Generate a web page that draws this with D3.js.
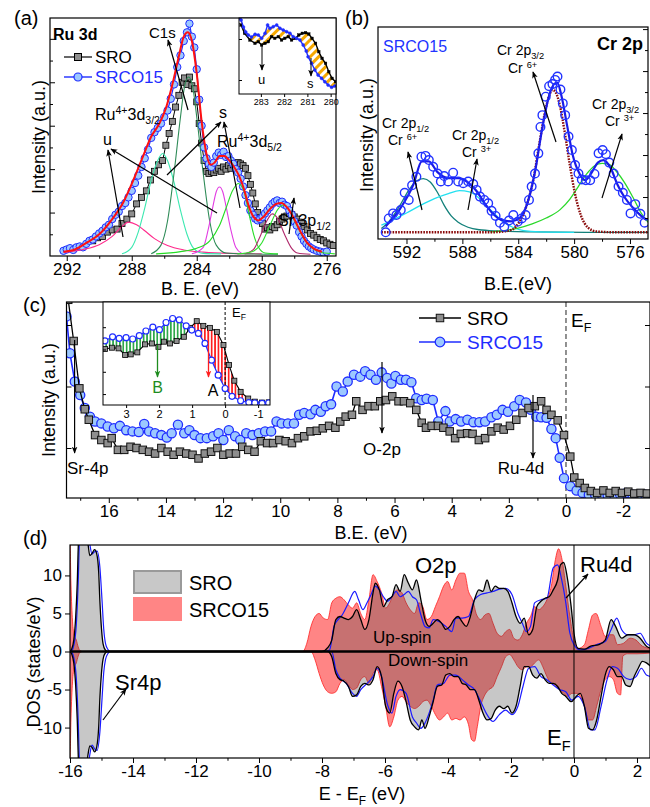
<!DOCTYPE html>
<html><head><meta charset="utf-8">
<script src="https://cdn.jsdelivr.net/npm/d3@7"></script>
<style>body{margin:0;background:#fff}svg text{font-family:"Liberation Sans",Arial,Helvetica,sans-serif}</style>
</head><body>
<svg id="chart" width="650" height="807"></svg>
<script>
// ================= DATA =================
// (a) Ru 3d XPS  [B.E. (eV), intensity]
const a_SRO = [[290.4,0.35],[290.1,0.42],[289.8,0.45],[289.5,0.55],[289.2,0.6],[288.9,0.62],[288.6,0.75],[288.3,0.85],[288.0,0.97],[287.7,1.2],[287.4,1.35],[287.1,1.5],[286.85,1.75],[286.6,1.95],[286.35,2.1],[286.1,2.2],[285.9,2.55],[285.7,2.82],[285.5,3.1],[285.3,3.43],[285.1,3.7],[284.9,4.0],[284.75,4.1],[284.6,3.95],[284.45,4.12],[284.3,3.92],[284.15,3.85],[284.0,3.55],[283.85,3.05],[283.7,2.6],[283.55,2.2],[283.4,1.95],[283.25,1.9],[283.1,1.95],[282.95,1.92],[282.8,1.98],[282.65,2.02],[282.5,1.95],[282.35,2.05],[282.2,2.0],[282.05,2.08],[281.9,2.02],[281.75,2.1],[281.6,2.05],[281.45,2.15],[281.3,2.12],[281.15,2.08],[281.0,2.02],[280.85,1.85],[280.7,1.65],[280.55,1.45],[280.4,1.2],[280.25,1.0],[280.1,0.88],[279.95,0.75],[279.8,0.62],[279.65,0.65],[279.5,0.6],[279.35,0.68],[279.2,0.65],[279.05,0.72],[278.9,0.8],[278.75,0.85],[278.6,0.9],[278.45,0.92],[278.3,0.98],[278.15,0.95],[278.0,0.9],[277.85,0.85],[277.7,0.78],[277.55,0.75],[277.4,0.68],[277.2,0.6],[277.0,0.52],[276.8,0.48],[276.6,0.42],[276.4,0.38],[276.2,0.35],[276.0,0.3],[275.8,0.27],[275.6,0.24]];
const a_SRCO15 = [[292.2,0.12],[292.0,0.15],[291.8,0.18],[291.6,0.14],[291.4,0.2],[291.2,0.22],[291.0,0.2],[290.8,0.28],[290.6,0.35],[290.4,0.38],[290.2,0.45],[290.0,0.52],[289.8,0.58],[289.6,0.66],[289.4,0.72],[289.2,0.85],[289.0,0.95],[288.8,1.02],[288.6,1.15],[288.4,1.22],[288.2,1.35],[288.0,1.5],[287.8,1.68],[287.6,1.85],[287.4,2.05],[287.2,2.25],[287.0,2.45],[286.8,2.72],[286.6,2.85],[286.4,2.95],[286.2,3.05],[286.0,3.2],[285.8,3.35],[285.6,3.62],[285.4,3.95],[285.2,4.35],[285.0,4.62],[284.8,4.95],[284.6,5.15],[284.45,5.35],[284.3,5.05],[284.15,4.8],[284.0,4.3],[283.85,3.6],[283.7,3.0],[283.55,2.5],[283.4,2.25],[283.25,2.12],[283.1,2.05],[282.95,2.15],[282.8,2.3],[282.65,2.38],[282.5,2.33],[282.35,2.4],[282.2,2.28],[282.05,2.3],[281.9,2.2],[281.75,2.12],[281.6,2.0],[281.45,1.92],[281.3,1.78],[281.15,1.6],[281.0,1.4],[280.85,1.22],[280.7,1.05],[280.55,0.95],[280.4,0.86],[280.25,0.82],[280.1,0.85],[279.95,0.9],[279.8,0.98],[279.65,1.05],[279.5,1.12],[279.35,1.2],[279.2,1.25],[279.05,1.28],[278.9,1.22],[278.75,1.25],[278.6,1.18],[278.45,1.15],[278.3,1.05],[278.15,0.95],[278.0,0.8],[277.85,0.7],[277.7,0.55],[277.55,0.45],[277.4,0.35],[277.25,0.28],[277.1,0.22],[276.95,0.18],[276.8,0.15],[276.6,0.12],[276.4,0.1],[276.2,0.08],[276.0,0.1]];
const a_fit = [[292.2,0.1],[291.5,0.15],[290.8,0.3],[290.0,0.5],[289.2,0.85],[288.5,1.25],[287.9,1.75],[287.3,2.3],[286.8,2.75],[286.3,3.05],[285.9,3.4],[285.5,3.95],[285.1,4.6],[284.8,5.05],[284.55,5.15],[284.3,4.95],[284.0,4.2],[283.7,3.1],[283.4,2.35],[283.15,2.1],[282.9,2.15],[282.6,2.3],[282.3,2.3],[282.0,2.2],[281.7,2.05],[281.4,1.85],[281.1,1.55],[280.8,1.15],[280.5,0.9],[280.2,0.82],[279.9,0.9],[279.5,1.08],[279.1,1.2],[278.8,1.22],[278.4,1.1],[278.0,0.85],[277.6,0.55],[277.2,0.3],[276.8,0.17],[276.3,0.1]];
const a_peak_u = [[292.2,0.08],[291.0,0.15],[290.0,0.26],[289.2,0.45],[288.6,0.68],[288.2,0.78],[287.7,0.72],[287.2,0.58],[286.6,0.4],[285.8,0.24],[284.8,0.14],[283.6,0.09],[282.0,0.06],[280.0,0.05]];
const a_peak_d32 = [[288.6,0.05],[288.0,0.2],[287.6,0.55],[287.2,1.1],[286.8,1.75],[286.4,2.2],[286.1,2.36],[285.8,2.2],[285.4,1.7],[285.0,1.05],[284.6,0.5],[284.2,0.18],[283.6,0.06],[282.5,0.05]];
const a_peak_C1s = [[286.8,0.05],[286.2,0.25],[285.8,0.8],[285.4,1.9],[285.0,3.2],[284.75,3.9],[284.5,4.12],[284.25,3.9],[284.0,3.2],[283.6,1.9],[283.2,0.8],[282.8,0.25],[282.2,0.07],[281.0,0.05],[279.0,0.04]];
const a_peak_s = [[284.3,0.05],[283.6,0.2],[283.3,0.6],[283.0,1.15],[282.8,1.48],[282.6,1.59],[282.4,1.48],[282.2,1.15],[281.9,0.6],[281.6,0.2],[281.2,0.05]];
const a_peak_d52 = [[286.5,0.05],[285.0,0.1],[284.0,0.18],[283.2,0.35],[282.6,0.7],[282.2,1.1],[281.8,1.5],[281.45,1.67],[281.1,1.5],[280.8,1.0],[280.5,0.5],[280.2,0.2],[279.8,0.07],[279.0,0.05]];
const a_peak_m = [[281.0,0.05],[280.5,0.15],[280.1,0.45],[279.7,0.8],[279.35,0.97],[279.0,0.85],[278.6,0.5],[278.2,0.2],[277.8,0.07],[277.0,0.04]];
const a_peak_Sr = [[281.5,0.05],[280.6,0.1],[280.0,0.3],[279.5,0.7],[279.0,1.08],[278.7,1.17],[278.3,1.05],[277.9,0.75],[277.4,0.4],[276.9,0.18],[276.3,0.08],[275.5,0.05]];
const a_xTicks = [292,288,284,280,276];
const a_xMinor = [290,286,282,278];
const a_yTicks = [1,2,3,4,5];
// (a) inset
const ai_SRO = [[283.85,6.9],[283.7,6.07],[283.47,5.4],[283.25,5.07],[283.11,5.23],[282.97,4.9],[282.82,5.07],[282.68,5.23],[282.54,5.73],[282.4,5.57],[282.25,5.73],[282.11,5.4],[281.97,5.57],[281.82,5.73],[281.68,5.4],[281.51,5.57],[281.37,5.9],[281.22,6.07],[281.08,6.13],[280.94,6.0],[280.8,5.57],[280.65,5.07],[280.51,4.23],[280.37,3.57],[280.22,3.07],[280.08,2.23],[279.94,1.57],[279.79,1.23]];
const ai_SRCO15 = [[283.9,7.6],[283.85,7.4],[283.75,6.7],[283.65,6.2],[283.54,5.9],[283.4,5.7],[283.25,5.97],[283.11,5.9],[282.97,5.57],[282.82,6.07],[282.71,6.9],[282.61,6.57],[282.47,6.73],[282.32,6.9],[282.18,6.57],[282.04,6.4],[281.89,6.23],[281.75,6.07],[281.61,5.73],[281.46,5.57],[281.32,5.4],[281.18,4.9],[281.05,4.3],[280.97,3.73],[280.82,3.07],[280.68,2.4],[280.54,1.9],[280.39,1.57],[280.25,1.23],[280.11,0.9],[279.96,0.67],[279.82,0.8]];
const ai_xTicks = [283,282,281,280];

// (b) Cr 2p XPS
const b_SRCO15 = [[593.49,0.16],[593.27,0.49],[592.96,0.61],[592.72,0.57],[592.41,0.69],[592.13,1.10],[591.84,0.93],[591.60,1.28],[591.29,1.48],[590.93,1.96],[590.64,1.98],[590.40,1.88],[590.09,1.72],[589.78,1.56],[589.54,1.37],[589.30,1.50],[589.02,1.37],[588.66,1.58],[588.30,1.37],[587.94,1.33],[587.58,1.37],[587.22,1.31],[586.98,1.17],[586.74,1.01],[586.43,0.93],[586.15,0.85],[585.91,0.67],[585.62,0.55],[585.31,0.39],[585.00,0.29],[584.66,0.44],[584.35,0.57],[584.04,0.41],[583.75,0.49],[583.47,0.57],[583.23,0.93],[583.04,1.25],[582.80,1.56],[582.56,2.04],[582.41,2.67],[582.27,2.95],[582.03,3.39],[581.79,3.64],[581.55,3.69],[581.36,3.79],[581.19,3.87],[580.98,3.56],[580.81,3.23],[580.64,2.95],[580.40,2.44],[580.16,2.12],[579.93,1.76],[579.69,1.56],[579.45,1.42],[579.16,1.40],[578.85,1.40],[578.54,1.55],[578.25,2.04],[577.96,2.12],[577.72,2.02],[577.48,1.82],[577.17,1.56],[576.82,1.25],[576.51,1.10],[576.22,0.93],[575.96,0.61],[575.62,0.83],[575.26,0.60],[574.95,0.39]];
const b_fit = [[593.5,0.3],[592.5,0.7],[591.5,1.3],[590.9,1.85],[590.4,1.85],[589.8,1.6],[589.0,1.45],[588.3,1.45],[587.6,1.35],[587.0,1.15],[586.4,0.85],[585.8,0.6],[585.2,0.45],[584.5,0.42],[583.9,0.5],[583.4,0.8],[582.8,1.6],[582.3,2.6],[581.8,3.4],[581.4,3.7],[581.2,3.72],[580.9,3.4],[580.5,2.7],[580.1,2.0],[579.6,1.55],[579.2,1.4],[578.8,1.55],[578.3,1.82],[577.9,1.88],[577.4,1.7],[576.9,1.3],[576.4,1.0],[575.8,0.75],[575.2,0.55],[574.8,0.45]];
const b_peak_Cr6_12 = [[593.8,0.25],[593.3,0.4],[592.8,0.62],[592.3,0.9],[591.8,1.18],[591.3,1.38],[590.8,1.44],[590.3,1.36],[589.8,1.12],[589.3,0.8],[588.8,0.55],[588.3,0.4],[587.6,0.28],[586.8,0.22],[585.5,0.19],[583.0,0.17],[579.0,0.16],[574.7,0.16]];
const b_peak_Cr3_12 = [[593.8,0.33],[593.0,0.45],[592.0,0.62],[591.0,0.8],[590.0,0.96],[589.0,1.08],[588.2,1.15],[587.5,1.12],[586.9,1.0],[586.3,0.8],[585.7,0.6],[585.1,0.42],[584.4,0.28],[583.6,0.2],[582.5,0.17],[580.0,0.16]];
const b_peak_Cr6_32 = [[593.8,0.16],[586.0,0.16],[585.0,0.18],[584.4,0.23],[583.9,0.42],[583.4,0.8],[582.9,1.45],[582.5,2.25],[582.1,3.0],[581.8,3.4],[581.55,3.55],[581.3,3.48],[581.0,3.15],[580.65,2.5],[580.3,1.75],[579.95,1.1],[579.5,0.55],[579.0,0.27],[578.4,0.18],[577.0,0.16],[574.7,0.16]];
const b_peak_Cr3_32 = [[586.0,0.17],[585.0,0.2],[584.0,0.26],[583.0,0.36],[582.0,0.5],[581.0,0.7],[580.3,0.95],[579.7,1.25],[579.1,1.55],[578.5,1.75],[578.0,1.8],[577.5,1.78],[577.0,1.62],[576.4,1.35],[575.8,1.0],[575.2,0.62],[574.7,0.4]];
const b_xTicks = [592,588,584,580,576];
const b_xMinor = [590,586,582,578];
const b_yTicks = [1,2,3,4,5];

// (c) valence band
const c_SRO = [[17.5,3.6],[17.42,3.41],[17.23,2.74],[17.03,1.97],[16.84,1.63],[16.70,1.46],[16.48,1.21],[16.26,1.13],[16.04,1.08],[15.90,1.16],[15.68,0.97],[15.46,0.97],[15.24,1.02],[15.03,1.0],[14.81,0.97],[14.59,0.94],[14.38,0.91],[14.16,1.0],[13.94,0.94],[13.73,0.89],[13.51,0.94],[13.29,0.91],[13.07,0.89],[12.86,0.83],[12.64,0.91],[12.42,0.94],[12.20,1.0],[11.99,0.89],[11.77,0.91],[11.55,0.91],[11.33,1.02],[11.12,0.97],[10.90,0.94],[10.68,1.11],[10.46,1.08],[10.25,1.08],[10.03,1.13],[9.81,1.11],[9.59,1.08],[9.38,1.16],[9.16,1.19],[8.94,1.27],[8.72,1.28],[8.51,1.32],[8.29,1.36],[8.07,1.33],[7.90,1.43],[7.71,1.51],[7.49,1.54],[7.34,1.76],[7.12,1.62],[6.91,1.68],[6.69,1.68],[6.50,1.76],[6.30,1.78],[6.08,1.84],[5.86,1.76],[5.67,1.76],[5.45,1.73],[5.24,1.62],[5.05,1.41],[4.90,1.33],[4.70,1.36],[4.48,1.36],[4.29,1.33],[4.07,1.27],[3.88,1.16],[3.68,1.23],[3.46,1.24],[3.27,1.23],[3.05,1.13],[2.83,1.16],[2.61,1.27],[2.39,1.33],[2.18,1.30],[1.96,1.36],[1.74,1.46],[1.52,1.57],[1.31,1.65],[1.09,1.68],[0.87,1.76],[0.68,1.62],[0.51,1.54],[0.29,1.45],[0.07,1.21],[-0.15,0.86],[-0.29,0.52],[-0.48,0.43],[-0.66,0.35],[-0.87,0.30],[-1.09,0.27],[-1.31,0.31],[-1.53,0.27],[-1.74,0.30],[-1.96,0.27],[-2.18,0.29],[-2.39,0.26],[-2.61,0.27],[-2.83,0.26]];
const c_SRCO15 = [[17.55,3.5],[17.48,3.14],[17.36,2.54],[17.19,2.08],[17.00,1.86],[16.84,1.65],[16.66,1.51],[16.48,1.43],[16.26,1.40],[16.04,1.35],[15.82,1.32],[15.61,1.36],[15.39,1.29],[15.17,1.27],[14.95,1.26],[14.76,1.39],[14.59,1.27],[14.38,1.24],[14.16,1.21],[13.97,1.17],[13.80,1.24],[13.58,1.38],[13.36,1.24],[13.18,1.29],[13.00,1.21],[12.79,1.16],[12.57,1.16],[12.35,1.19],[12.16,1.24],[11.99,1.13],[11.80,1.29],[11.58,1.19],[11.40,1.13],[11.19,1.24],[10.97,1.21],[10.75,1.24],[10.53,1.27],[10.32,1.27],[10.13,1.43],[9.95,1.40],[9.73,1.40],[9.52,1.40],[9.34,1.54],[9.16,1.57],[8.94,1.55],[8.77,1.62],[8.58,1.59],[8.41,1.68],[8.22,1.71],[8.03,2.0],[7.81,1.92],[7.64,2.08],[7.42,2.19],[7.20,2.16],[7.03,2.25],[6.84,2.19],[6.65,2.11],[6.45,2.23],[6.26,2.14],[6.11,2.05],[5.97,2.17],[5.78,2.11],[5.60,2.11],[5.41,2.07],[5.24,1.81],[5.05,1.78],[4.88,1.80],[4.66,1.78],[4.47,1.43],[4.22,1.60],[4.07,1.43],[3.86,1.47],[3.67,1.43],[3.45,1.46],[3.24,1.42],[3.03,1.42],[2.83,1.43],[2.61,1.50],[2.42,1.54],[2.22,1.62],[2.03,1.59],[1.81,1.68],[1.62,1.78],[1.40,1.74],[1.23,1.62],[1.04,1.51],[0.87,1.50],[0.68,1.49],[0.51,1.31],[0.36,1.16],[0.22,0.84],[0.07,0.51],[-0.15,0.38],[-0.37,0.31],[-0.58,0.27],[-0.80,0.24],[-1.02,0.24],[-1.24,0.25],[-1.46,0.23],[-1.68,0.24],[-1.89,0.25],[-2.11,0.27],[-2.33,0.24],[-2.55,0.25],[-2.77,0.24]];
const c_xTicks = [16,14,12,10,8,6,4,2,0,-2];
const c_xMinor = [17,15,13,11,9,7,5,3,1,-1];
const c_yTicks = [1,2,3];
// (c) inset near E_F
const ci_SRO = [[3.64,2.02],[3.43,2.08],[3.23,2.05],[3.03,1.75],[2.86,1.78],[2.66,1.87],[2.43,2.23],[2.22,2.27],[2.02,2.12],[1.85,2.35],[1.67,2.27],[1.47,2.38],[1.25,2.57],[1.06,2.97],[0.86,3.27],[0.66,3.06],[0.46,2.97],[0.25,2.79],[0.05,2.20],[-0.12,1.3],[-0.28,0.6],[-0.47,0.1],[-0.7,-0.2],[-0.9,-0.34],[-1.12,-0.38],[-1.32,-0.37]];
const ci_SRCO15 = [[3.64,2.39],[3.41,2.57],[3.21,2.50],[3.0,2.53],[2.80,2.47],[2.60,2.62],[2.40,2.83],[2.19,3.0],[1.99,2.89],[1.79,3.21],[1.59,3.39],[1.39,3.33],[1.18,3.06],[1.01,2.87],[0.81,2.72],[0.61,2.27],[0.41,1.52],[0.21,0.85],[0.0,0.25],[-0.21,-0.1],[-0.47,-0.3],[-0.72,-0.38],[-0.9,-0.4],[-1.12,-0.42],[-1.32,-0.4]];
const ci_xTicks = [3,2,1,0,-1];
const ci_yTicks = [0,1,2,3];

// (d) DOS  [E - EF (eV), states/eV]
const d_SRO_up = [[-16.0,0.0],[-15.95,0.3],[-15.88,1.5],[-15.82,4.5],[-15.77,9],[-15.73,14.5],[-15.65,17],[-15.5,16],[-15.43,14.2],[-15.37,12.6],[-15.3,12.9],[-15.22,13.4],[-15.15,12.8],[-15.09,10.5],[-15.05,6.5],[-15.0,3],[-14.95,1.0],[-14.88,0.2],[-14.8,0],[-8.0,0],[-7.82,0.5],[-7.69,1.5],[-7.56,4.2],[-7.43,4.6],[-7.3,4.4],[-7.16,4.2],[-7.03,4.6],[-6.9,5.5],[-6.77,4.2],[-6.64,2.9],[-6.51,4.2],[-6.38,7.7],[-6.31,9.0],[-6.18,8.1],[-6.05,5.9],[-5.92,6.8],[-5.78,7.2],[-5.65,8.8],[-5.52,7.9],[-5.39,10.1],[-5.26,9.0],[-5.13,8.1],[-5.0,9.4],[-4.86,6.8],[-4.73,4.2],[-4.6,3.3],[-4.47,3.7],[-4.34,4.2],[-4.2,3.7],[-4.07,2.9],[-3.94,3.3],[-3.81,4.2],[-3.68,4.6],[-3.55,3.9],[-3.42,3.3],[-3.29,4.6],[-3.16,6.8],[-3.02,8.1],[-2.89,7.9],[-2.76,9.4],[-2.63,7.9],[-2.5,8.6],[-2.37,8.3],[-2.23,8.3],[-2.1,7.9],[-1.97,6.4],[-1.84,4.6],[-1.71,3.7],[-1.58,4.4],[-1.44,2.2],[-1.31,2.9],[-1.18,5.9],[-1.05,6.6],[-0.92,7.0],[-0.79,7.2],[-0.66,8.1],[-0.52,9.4],[-0.43,11.4],[-0.33,11.7],[-0.2,9.4],[-0.09,5.9],[0,2.4],[0.13,0.4],[0.33,0.3],[0.53,0.7],[0.79,0.9],[0.99,1.5],[1.18,4.2],[1.32,3.3],[1.51,1.75],[1.71,2.2],[1.91,2.2],[2.1,1.75],[2.3,0.7],[2.45,0.4]];
const d_SRCO15_up = [[-16.05,16],[-16.0,14.5],[-15.97,9],[-15.92,4],[-15.87,2.2],[-15.8,1.5],[-15.74,0.6],[-15.68,0.1],[-15.6,0],[-8.7,0],[-8.61,0],[-8.48,1.1],[-8.35,3.3],[-8.22,4.6],[-8.09,5.0],[-7.96,4.4],[-7.82,4.2],[-7.69,6.4],[-7.56,7.0],[-7.43,7.2],[-7.3,6.8],[-7.16,6.1],[-7.03,5.7],[-6.9,6.4],[-6.77,5.0],[-6.64,4.2],[-6.51,6.8],[-6.38,10.1],[-6.25,9.2],[-6.11,7.7],[-5.98,5.7],[-5.85,6.4],[-5.72,7.7],[-5.59,8.1],[-5.46,7.7],[-5.33,6.4],[-5.2,5.5],[-5.06,5.0],[-4.93,6.4],[-4.8,5.9],[-4.67,4.2],[-4.53,4.6],[-4.4,5.9],[-4.27,7.2],[-4.14,8.6],[-4.01,9.2],[-3.88,8.1],[-3.75,9.4],[-3.62,10.3],[-3.48,10.3],[-3.35,7.9],[-3.22,6.8],[-3.09,4.8],[-2.96,4.2],[-2.83,4.8],[-2.7,5.0],[-2.57,3.7],[-2.44,2.4],[-2.3,2.0],[-2.17,2.6],[-2.04,2.9],[-1.91,1.75],[-1.78,1.5],[-1.64,2.2],[-1.51,3.7],[-1.38,4.6],[-1.25,5.9],[-1.12,5.5],[-0.99,5.9],[-0.86,6.8],[-0.72,8.6],[-0.59,12.1],[-0.49,13.5],[-0.38,12.1],[-0.26,8.6],[-0.13,4.6],[0,1.5],[0.13,0.4],[0.33,0.9],[0.46,2.9],[0.59,4.8],[0.7,5.0],[0.86,3.3],[0.99,2.0],[1.12,2.2],[1.25,2.2],[1.38,0.9],[1.58,1.1],[1.78,1.75],[1.97,1.5],[2.17,0.7],[2.45,0.4]];
const d_blue_up = [[-15.95,0],[-15.88,0.8],[-15.8,3.5],[-15.74,9],[-15.7,14.5],[-15.6,17],[-15.45,16],[-15.38,14.3],[-15.3,12.8],[-15.22,13.1],[-15.14,13.2],[-15.05,11],[-14.98,6.5],[-14.93,3],[-14.87,1.0],[-14.8,0.3],[-14.72,0],[-7.9,0],[-7.76,0.2],[-7.62,3.3],[-7.49,4.2],[-7.36,4.8],[-7.16,6.4],[-6.96,7.9],[-6.84,6.8],[-6.7,5.5],[-6.57,6.4],[-6.44,7.5],[-6.31,8.6],[-6.18,8.1],[-6.05,7.2],[-5.92,6.6],[-5.78,7.2],[-5.65,7.9],[-5.52,7.2],[-5.39,7.5],[-5.26,7.9],[-5.13,7.2],[-5.0,6.8],[-4.86,4.8],[-4.73,3.3],[-4.6,3.1],[-4.47,4.2],[-4.27,3.9],[-4.07,3.3],[-3.88,2.6],[-3.75,4.4],[-3.55,4.4],[-3.35,4.6],[-3.16,6.8],[-2.96,7.5],[-2.76,7.7],[-2.57,7.9],[-2.37,8.2],[-2.17,8.3],[-1.97,7.5],[-1.78,5.0],[-1.64,3.7],[-1.51,2.6],[-1.38,3.3],[-1.25,6.4],[-1.05,6.8],[-0.86,7.0],[-0.66,11.0],[-0.52,11.4],[-0.39,9.4],[-0.26,6.4],[-0.13,2.4],[0,0.9],[0.2,0.2],[0.46,0.4],[0.72,0.9],[0.99,1.3],[1.18,2.9],[1.36,4.4],[1.51,2.9],[1.71,2.2],[1.91,2.2],[2.1,2.4],[2.3,1.1],[2.45,0.7]];
const d_SRO_dn = [[-16.0,0],[-15.95,-0.3],[-15.88,-1.5],[-15.82,-4.5],[-15.77,-9],[-15.73,-14.5],[-15.65,-17],[-15.5,-16],[-15.43,-13.6],[-15.37,-12.4],[-15.3,-12.6],[-15.22,-13.2],[-15.15,-12.5],[-15.09,-10],[-15.05,-6],[-15.0,-2.8],[-14.95,-1.0],[-14.88,-0.2],[-14.8,0],[-8.0,0],[-7.82,0],[-7.69,-0.7],[-7.56,-2.9],[-7.43,-3.7],[-7.3,-3.9],[-7.16,-4.6],[-7.03,-5.9],[-6.9,-5.7],[-6.77,-4.6],[-6.64,-4.2],[-6.51,-4.4],[-6.38,-3.7],[-6.25,-2.0],[-6.11,-3.3],[-5.98,-7.2],[-5.85,-8.1],[-5.72,-5.5],[-5.59,-3.9],[-5.46,-4.6],[-5.33,-6.6],[-5.2,-9.0],[-5.06,-9.9],[-4.93,-10.3],[-4.83,-9.0],[-4.73,-10.1],[-4.6,-8.6],[-4.47,-6.6],[-4.34,-4.6],[-4.2,-4.4],[-4.07,-3.1],[-3.94,-2.9],[-3.81,-3.3],[-3.68,-3.3],[-3.55,-4.2],[-3.42,-4.4],[-3.29,-5.0],[-3.16,-5.0],[-3.02,-6.4],[-2.89,-8.1],[-2.76,-9.0],[-2.63,-8.8],[-2.5,-7.7],[-2.37,-7.2],[-2.23,-7.5],[-2.1,-7.2],[-1.97,-8.1],[-1.84,-7.2],[-1.71,-4.6],[-1.58,-2.0],[-1.44,-2.0],[-1.31,-3.1],[-1.18,-3.5],[-1.05,-2.9],[-0.92,-3.7],[-0.79,-4.2],[-0.66,-4.2],[-0.52,-4.6],[-0.39,-5.5],[-0.26,-5.9],[-0.09,-6.6],[0.07,-5.9],[0.2,-5.5],[0.33,-7.2],[0.46,-10.1],[0.59,-10.3],[0.72,-9.0],[0.86,-5.9],[0.99,-3.1],[1.12,-2.0],[1.25,-2.4],[1.38,-3.3],[1.51,-3.3],[1.64,-4.4],[1.78,-4.6],[1.91,-3.3],[2.04,-2.2],[2.17,-1.3],[2.3,-1.5],[2.45,-2.0]];
const d_SRCO15_dn = [[-16.05,-16],[-16.0,-14.5],[-15.97,-9],[-15.92,-4],[-15.87,-2.2],[-15.8,-1.5],[-15.74,-0.6],[-15.68,-0.1],[-15.6,0],[-8.45,0],[-8.35,0],[-8.22,-1.1],[-8.09,-2.9],[-7.96,-4.4],[-7.82,-5.3],[-7.69,-5.5],[-7.56,-5.3],[-7.43,-4.2],[-7.3,-3.7],[-7.16,-4.4],[-7.03,-5.0],[-6.9,-4.8],[-6.77,-3.7],[-6.64,-3.3],[-6.51,-4.2],[-6.38,-2.9],[-6.25,-2.4],[-6.11,-4.6],[-5.98,-7.2],[-5.85,-9.9],[-5.72,-8.6],[-5.59,-6.4],[-5.46,-5.9],[-5.33,-6.6],[-5.2,-7.2],[-5.06,-7.5],[-4.93,-7.2],[-4.8,-6.6],[-4.67,-6.4],[-4.53,-7.2],[-4.4,-8.3],[-4.27,-9.0],[-4.14,-8.6],[-4.01,-8.1],[-3.88,-9.0],[-3.75,-8.8],[-3.62,-9.0],[-3.48,-8.6],[-3.35,-9.6],[-3.25,-11.6],[-3.16,-11.8],[-3.07,-9.9],[-2.96,-7.2],[-2.83,-5.7],[-2.7,-5.0],[-2.57,-4.6],[-2.44,-3.3],[-2.3,-2.0],[-2.17,-0.7],[-2.04,-0.4],[-1.91,-1.1],[-1.78,-2.0],[-1.64,-2.4],[-1.51,-2.0],[-1.38,-2.0],[-1.25,-1.5],[-1.12,-1.1],[-0.99,-2.0],[-0.86,-3.3],[-0.72,-4.2],[-0.59,-4.4],[-0.46,-5.0],[-0.33,-5.5],[-0.2,-5.9],[-0.07,-5.5],[0.07,-5.5],[0.2,-5.9],[0.33,-7.2],[0.46,-9.0],[0.59,-9.0],[0.72,-7.2],[0.86,-5.0],[0.99,-3.7],[1.12,-3.3],[1.25,-3.7],[1.38,-5.5],[1.48,-5.7],[1.55,-0.6],[1.7,-0.3],[2.0,-0.3],[2.45,-0.2]];
const d_blue_dn = [[-15.95,0],[-15.88,-0.8],[-15.8,-3.5],[-15.74,-9],[-15.7,-14.5],[-15.6,-17],[-15.45,-16],[-15.38,-13.8],[-15.3,-12.3],[-15.22,-12.8],[-15.14,-13.0],[-15.05,-10.5],[-14.98,-6.0],[-14.93,-2.8],[-14.87,-1.0],[-14.8,-0.3],[-14.72,0],[-7.8,0],[-7.69,0],[-7.56,-2.4],[-7.43,-3.5],[-7.23,-4.2],[-7.03,-5.5],[-6.9,-5.9],[-6.77,-5.0],[-6.57,-4.2],[-6.38,-3.3],[-6.25,-2.2],[-6.11,-3.3],[-5.92,-7.0],[-5.78,-8.1],[-5.65,-5.9],[-5.52,-5.0],[-5.33,-5.5],[-5.13,-8.6],[-5.0,-9.4],[-4.86,-10.1],[-4.73,-9.4],[-4.6,-8.1],[-4.47,-6.4],[-4.34,-4.4],[-4.14,-4.2],[-3.94,-3.1],[-3.75,-3.1],[-3.55,-3.7],[-3.35,-4.4],[-3.16,-5.0],[-2.96,-6.6],[-2.76,-8.3],[-2.57,-9.2],[-2.37,-8.3],[-2.17,-7.7],[-1.97,-8.3],[-1.78,-7.2],[-1.62,-4.6],[-1.44,-2.2],[-1.25,-2.0],[-1.05,-3.3],[-0.86,-3.7],[-0.66,-4.4],[-0.46,-5.0],[-0.26,-5.3],[-0.07,-6.4],[0.13,-5.9],[0.33,-7.2],[0.53,-10.3],[0.66,-10.3],[0.86,-7.2],[1.05,-3.7],[1.22,-2.0],[1.38,-2.2],[1.58,-3.3],[1.78,-3.7],[1.97,-3.3],[2.14,-2.2],[2.3,-3.1],[2.45,-3.3]];
const d_xTicks = [-16,-14,-12,-10,-8,-6,-4,-2,0,2];
const d_xMinor = [-15,-13,-11,-9,-7,-5,-3,-1,1];
const d_yTicks = [-10,-5,0,5,10];

// ================= DRAWING =================
const svg = d3.select('#chart');
const defs = svg.append('defs');
const TF = 17, LF = 18;

[['k','#000'],['g','#1e8c1e'],['r','#ff1f1f']].forEach(([id,c])=>{
  defs.append('marker').attr('id','ah-'+id).attr('viewBox','0 0 10 10').attr('refX',9).attr('refY',5)
    .attr('markerWidth',7).attr('markerHeight',7).attr('markerUnits','userSpaceOnUse').attr('orient','auto')
    .append('path').attr('d','M0,1 L10,5 L0,9 L2.5,5 Z').attr('fill',c);
});
function stripes(id,color,w,angle){
  const p=defs.append('pattern').attr('id',id).attr('patternUnits','userSpaceOnUse').attr('width',w).attr('height',w);
  if(angle) p.attr('patternTransform','rotate('+angle+')');
  p.append('rect').attr('width',w).attr('height',w).attr('fill','#fff');
  p.append('rect').attr('width',w*0.5).attr('height',w).attr('fill',color);
}
stripes('hG','#2ea84a',3.4,0); stripes('hR','#ff2020',3.4,0); stripes('hO','#f6a800',6,45);

function panel(id,L,R,T,B,xd,yd){
  const x=d3.scaleLinear().domain(xd).range([L,R]);
  const y=d3.scaleLinear().domain(yd).range([B,T]);
  defs.append('clipPath').attr('id','clip-'+id).append('rect').attr('x',L).attr('y',T).attr('width',R-L).attr('height',B-T);
  const g=svg.append('g');
  const plot=g.append('g').attr('clip-path','url(#clip-'+id+')');
  return {x,y,g,plot,L,R,T,B};
}
function frame(p,sw){ p.g.append('rect').attr('x',p.L).attr('y',p.T).attr('width',p.R-p.L).attr('height',p.B-p.T).attr('fill','none').attr('stroke','#000').attr('stroke-width',sw||1.2); }
function xAxis(p,major,minor,fs,size){
  const a=p.g.append('g').attr('transform','translate(0,'+p.B+')')
    .call(d3.axisBottom(p.x).tickValues(major).tickSize(size).tickPadding(2).tickFormat(d=>String(d)));
  a.select('.domain').remove();
  a.selectAll('text').style('font-size',fs+'px').attr('fill','#000');
  if(minor){const m=p.g.append('g').attr('transform','translate(0,'+p.B+')').call(d3.axisBottom(p.x).tickValues(minor).tickSize(size*0.55).tickFormat(''));m.select('.domain').remove();}
  return a;
}
function yIn(p,vals,side,size){
  const ax = side==='left'? d3.axisLeft(p.y) : d3.axisRight(p.y);
  const a=p.g.append('g').attr('transform','translate('+(side==='left'?p.L:p.R)+',0)').call(ax.tickValues(vals).tickSize(-size).tickFormat(''));
  a.select('.domain').remove();
}
// rich text: segments are strings, [str,'sup'|'sub'] or ['', 'br', xOffset, lineHeight]
function rich(g,x,y,segs,fs,opt){
  opt=opt||{};
  const t=g.append('text').attr('x',x).attr('y',y).style('font-size',fs+'px').attr('fill',opt.fill||'#000');
  if(opt.bold) t.style('font-weight','bold');
  if(opt.anchor) t.attr('text-anchor',opt.anchor);
  if(opt.rotate) t.attr('transform','rotate('+opt.rotate+','+x+','+y+')');
  let shift=0, pendX=null, extra=0;
  segs.forEach(s=>{
    const str=Array.isArray(s)?s[0]:s, kind=Array.isArray(s)?s[1]:'';
    if(kind==='br'){ pendX=x+(s[2]||0); extra+= (s[3]||fs*1.15); return; }
    const target= kind==='sup'? -0.36*fs : kind==='sub'? 0.26*fs : 0;
    const ts=t.append('tspan').text(str).attr('dy',target-shift+extra);
    if(pendX!==null){ ts.attr('x',pendX); pendX=null; }
    extra=0;
    if(kind) ts.style('font-size',(0.66*fs)+'px');
    shift=target;
  });
  return t;
}
function arrow(g,x1,y1,x2,y2,c,sw){
  const col=c==='g'?'#1e8c1e':c==='r'?'#ff1f1f':'#000';
  g.append('line').attr('x1',x1).attr('y1',y1).attr('x2',x2).attr('y2',y2).attr('stroke',col).attr('stroke-width',sw||1.2).attr('marker-end','url(#ah-'+(c||'k')+')');
}
function pathLine(p,data,curve){ return d3.line().x(d=>p.x(d[0])).y(d=>p.y(d[1])).curve(curve||d3.curveLinear)(data); }
function squares(gp,p,data,s,fill,stroke,sw){
  gp.selectAll(null).data(data).enter().append('rect').attr('x',d=>p.x(d[0])-s/2).attr('y',d=>p.y(d[1])-s/2).attr('width',s).attr('height',s).attr('fill',fill).attr('stroke',stroke).attr('stroke-width',sw);
}
function circles(gp,p,data,r,fill,stroke,sw){
  gp.selectAll(null).data(data).enter().append('circle').attr('cx',d=>p.x(d[0])).attr('cy',d=>p.y(d[1])).attr('r',r).attr('fill',fill).attr('stroke',stroke).attr('stroke-width',sw);
}
const ID={x:v=>v,y:v=>v};
const BLUE='#1f2dff', LBLUE='#9cc8ff', GRAY='#8e8e8e';

// ---------- (a) ----------
const A=panel('a',50,336,18,256,[293.03,275.43],[0,5.48]);
A.plot.append('path').attr('d',pathLine(A,a_SRO)).attr('fill','none').attr('stroke','#000').attr('stroke-width',1);
squares(A.plot,A,a_SRO,6,GRAY,'#000',0.8);
A.plot.append('path').attr('d',pathLine(A,a_SRCO15)).attr('fill','none').attr('stroke',BLUE).attr('stroke-width',1.2);
circles(A.plot,A,a_SRCO15,3.7,LBLUE,BLUE,1);
[[a_peak_u,'#ff2a8c'],[a_peak_d32,'#3be8b0'],[a_peak_C1s,'#2e8b57'],[a_peak_s,'#e23ce2'],[a_peak_d52,'#25dd25'],[a_peak_m,'#b02a6c'],[a_peak_Sr,'#30e030']].forEach(([d,c])=>{
  A.plot.append('path').attr('d',pathLine(A,d,d3.curveMonotoneX)).attr('fill','none').attr('stroke',c).attr('stroke-width',1.1);
});
A.plot.append('path').attr('d',pathLine(A,a_fit,d3.curveMonotoneX)).attr('fill','none').attr('stroke','#ff1010').attr('stroke-width',2);
frame(A);
xAxis(A,a_xTicks,a_xMinor,TF,5);
yIn(A,a_yTicks,'left',5); yIn(A,[0.5,1.5,2.5,3.5,4.5],'left',3);
rich(A.g,200,295,['B. E. (eV)'],LF,{anchor:'middle'});
rich(A.g,45,137,['Intensity (a.u.)'],LF,{anchor:'middle',rotate:-90});
rich(A.g,14,25,['(a)'],20);
rich(A.g,53,40,['Ru 3d'],16,{bold:true});
A.g.append('line').attr('x1',64).attr('x2',92).attr('y1',57).attr('y2',57).attr('stroke','#000').attr('stroke-width',1.2);
squares(A.g,ID,[[78,57]],7,GRAY,'#000',1);
rich(A.g,95,63,['SRO'],17);
A.g.append('line').attr('x1',64).attr('x2',92).attr('y1',77).attr('y2',77).attr('stroke',BLUE).attr('stroke-width',1.4);
circles(A.g,ID,[[78,77]],4,LBLUE,BLUE,1.2);
rich(A.g,95,83,['SRCO15'],17,{fill:BLUE});
rich(A.g,149,38,['C1s'],15);
arrow(A.g,188,110,168,40);
rich(A.g,95,120,['Ru',['4+','sup'],'3d',['3/2','sub']],16);
rich(A.g,103,145,['u'],16);
arrow(A.g,123,237,108,150); arrow(A.g,217,213,111,149);
rich(A.g,219,118,['s'],16);
arrow(A.g,167,175,221,122); arrow(A.g,240,208,224,122);
rich(A.g,217,147,['Ru',['4+','sup'],'3d',['5/2','sub']],16);
rich(A.g,278,226,['Sr 3p',['1/2','sub']],16);
arrow(A.g,289,234,294,198);
// inset (a)
const AI=panel('ai',239,336,18,94,[283.94,279.77],[0,7.6]);
AI.g.insert('rect',':first-child').attr('x',239).attr('y',18).attr('width',97).attr('height',76).attr('fill','#fff');
AI.plot.append('path').attr('d',pathLine(AI,ai_SRCO15.concat(ai_SRO.slice().reverse()))+'Z').attr('fill','url(#hO)').attr('stroke','none');
AI.plot.append('path').attr('d',pathLine(AI,ai_SRO)).attr('fill','none').attr('stroke','#000').attr('stroke-width',1.4);
squares(AI.plot,AI,ai_SRO,2.6,'#000','#000',0.4);
AI.plot.append('path').attr('d',pathLine(AI,ai_SRCO15)).attr('fill','none').attr('stroke',BLUE).attr('stroke-width',1.4);
circles(AI.plot,AI,ai_SRCO15,1.5,BLUE,BLUE,0.5);
frame(AI,1);
xAxis(AI,ai_xTicks,null,9,3);
yIn(AI,[1.4,5.5],'left',3);
arrow(AI.g,262,44,262,70,'k',1);
rich(AI.g,258,84,['u'],13);
arrow(AI.g,311,58,311,76,'k',1);
rich(AI.g,307,88,['s'],13);

// ---------- (b) ----------
const Bp=panel('b',378,648,27,239,[594.04,574.71],[0,5.05]);
[[b_peak_Cr6_12,'#12807a'],[b_peak_Cr3_12,'#22e0f0'],[b_peak_Cr3_32,'#2ad82a']].forEach(([d,c])=>{
  Bp.plot.append('path').attr('d',pathLine(Bp,d,d3.curveMonotoneX)).attr('fill','none').attr('stroke',c).attr('stroke-width',1.3);
});
Bp.plot.append('path').attr('d',pathLine(Bp,b_peak_Cr6_32,d3.curveMonotoneX)).attr('fill','none').attr('stroke','#8a0a0a').attr('stroke-width',2.4).attr('stroke-dasharray','1.6,1.2');
Bp.plot.append('path').attr('d',pathLine(Bp,b_fit,d3.curveMonotoneX)).attr('fill','none').attr('stroke','#1a1ae8').attr('stroke-width',2.2);
circles(Bp.plot,Bp,b_SRCO15,4.3,'none','#2233ff',1.4);
frame(Bp);
xAxis(Bp,b_xTicks,b_xMinor,TF,5);
yIn(Bp,b_yTicks,'right',5); yIn(Bp,[0.5,1.5,2.5,3.5,4.5],'right',3);
rich(Bp.g,518,290,['B.E.(eV)'],LF,{anchor:'middle'});
rich(Bp.g,373,135,['Intensity (a.u.)'],LF,{anchor:'middle',rotate:-90});
rich(Bp.g,345,25,['(b)'],20);
rich(Bp.g,383,52,['SRCO15'],16,{fill:'#2233ff'});
rich(Bp.g,643,50,['Cr 2p'],18,{bold:true,anchor:'end'});
rich(Bp.g,497,55,['Cr 2p',['3/2','sub'],['','br',11,18],'Cr ',['6+','sup']],14);
arrow(Bp.g,556,142,533,72);
rich(Bp.g,382,128,['Cr 2p',['1/2','sub'],['','br',6,17],'Cr ',['6+','sup']],14);
arrow(Bp.g,422,210,408,152);
rich(Bp.g,452,140,['Cr 2p',['1/2','sub'],['','br',10,17],'Cr ',['3+','sup']],14);
arrow(Bp.g,468,210,477,159);
rich(Bp.g,592,109,['Cr 2p',['3/2','sub'],['','br',13,17],'Cr ',['3+','sup']],14);
arrow(Bp.g,602,198,622,134);

// ---------- (c) ----------
const C=panel('c',66.5,650,302,498,[17.48,-2.94],[0.187,3.374]);
C.plot.append('line').attr('x1',C.x(0)).attr('x2',C.x(0)).attr('y1',302).attr('y2',498).attr('stroke','#555').attr('stroke-width',1.3).attr('stroke-dasharray','5,3');
C.plot.append('path').attr('d',pathLine(C,c_SRCO15)).attr('fill','none').attr('stroke',BLUE).attr('stroke-width',1.6);
circles(C.plot,C,c_SRCO15,4.6,LBLUE,BLUE,1.3);
C.plot.append('path').attr('d',pathLine(C,c_SRO)).attr('fill','none').attr('stroke','#000').attr('stroke-width',1.3);
squares(C.plot,C,c_SRO,7.5,GRAY,'#111',1);
frame(C);
xAxis(C,c_xTicks,c_xMinor,TF,5);
yIn(C,c_yTicks,'left',5); yIn(C,c_yTicks,'right',5);
rich(C.g,371,539,['B.E. (eV)'],LF,{anchor:'middle'});
rich(C.g,55,400,['Intensity (a.u.)'],LF,{anchor:'middle',rotate:-90});
rich(C.g,23,312,['(c)'],20);
C.g.append('line').attr('x1',419).attr('x2',461).attr('y1',318).attr('y2',318).attr('stroke','#000').attr('stroke-width',1.4);
squares(C.g,ID,[[440,318]],7.5,GRAY,'#111',1);
rich(C.g,467,325,['SRO'],19);
C.g.append('line').attr('x1',419).attr('x2',461).attr('y1',342).attr('y2',342).attr('stroke',BLUE).attr('stroke-width',1.6);
circles(C.g,ID,[[440,342]],4.8,LBLUE,BLUE,1.3);
rich(C.g,467,349,['SRCO15'],19,{fill:BLUE});
rich(C.g,571,327,['E',['F','sub']],19);
rich(C.g,382,455,['O-2p'],17,{anchor:'middle'});
arrow(C.g,382,362,382,433);
rich(C.g,67,474,['Sr-4p'],17);
arrow(C.g,74.6,340,74.6,453);
rich(C.g,521,474,['Ru-4d'],17,{anchor:'middle'});
arrow(C.g,533,395,533,458);
// inset (c)
const CI=panel('ci',103,270,302,405,[3.7,-1.36],[-0.49,4.13]);
CI.g.insert('rect',':first-child').attr('x',103).attr('y',302).attr('width',167).attr('height',103).attr('fill','#fff');
defs.append('clipPath').attr('id','clip-ciL').append('rect').attr('x',103).attr('y',302).attr('width',CI.x(1.08)-103).attr('height',103);
defs.append('clipPath').attr('id','clip-ciR').append('rect').attr('x',CI.x(1.08)).attr('y',302).attr('width',270-CI.x(1.08)).attr('height',103);
const hatchPath=pathLine(CI,ci_SRCO15.concat(ci_SRO.slice().reverse()))+'Z';
CI.plot.append('path').attr('d',hatchPath).attr('fill','url(#hG)').attr('clip-path','url(#clip-ciL)');
CI.plot.append('path').attr('d',hatchPath).attr('fill','url(#hR)').attr('clip-path','url(#clip-ciR)');
CI.plot.append('line').attr('x1',CI.x(0)).attr('x2',CI.x(0)).attr('y1',302).attr('y2',405).attr('stroke','#000').attr('stroke-width',1).attr('stroke-dasharray','3,2');
CI.plot.append('path').attr('d',pathLine(CI,ci_SRO)).attr('fill','none').attr('stroke','#000').attr('stroke-width',1.1);
squares(CI.plot,CI,ci_SRO,5,GRAY,'#000',0.8);
CI.plot.append('path').attr('d',pathLine(CI,ci_SRCO15)).attr('fill','none').attr('stroke',BLUE).attr('stroke-width',1.2);
circles(CI.plot,CI,ci_SRCO15,3,'#fff',BLUE,1.2);
frame(CI,1);
xAxis(CI,ci_xTicks,null,11,3);
yIn(CI,ci_yTicks,'left',3);
rich(CI.g,232,317,['E',['F','sub']],13);
arrow(CI.g,157.5,345,157.5,377,'g',1.3);
rich(CI.g,157.5,393,['B'],16,{fill:'#1e8c1e',anchor:'middle'});
arrow(CI.g,208.5,330,208.5,377,'r',1.3);
rich(CI.g,213,396,['A'],16,{anchor:'middle'});

// ---------- (d) ----------
const D=panel('d',70,650,545,758,[-16,2.413],[-14,14]);
const areaD=d3.area().x(d=>D.x(d[0])).y0(D.y(0)).y1(d=>D.y(d[1])).curve(d3.curveMonotoneX);
const lineD=d=>d3.line().x(e=>D.x(e[0])).y(e=>D.y(e[1])).curve(d3.curveMonotoneX)(d);
[d_SRCO15_up,d_SRCO15_dn].forEach(d=>D.plot.append('path').attr('d',areaD(d)).attr('fill','rgba(255,0,0,0.48)').attr('stroke','#ff2020').attr('stroke-width',0.8));
[d_SRO_up,d_SRO_dn].forEach(d=>D.plot.append('path').attr('d',areaD(d)).attr('fill','rgba(70,70,70,0.3)').attr('stroke','none'));
[d_blue_up,d_blue_dn].forEach(d=>D.plot.append('path').attr('d',lineD(d)).attr('fill','none').attr('stroke','#1a1aff').attr('stroke-width',1.2));
[d_SRO_up,d_SRO_dn].forEach(d=>D.plot.append('path').attr('d',lineD(d)).attr('fill','none').attr('stroke','#000').attr('stroke-width',1.3));
D.plot.append('line').attr('x1',70).attr('x2',650).attr('y1',D.y(0)).attr('y2',D.y(0)).attr('stroke','#000').attr('stroke-width',2.6);
D.plot.append('line').attr('x1',D.x(0)).attr('x2',D.x(0)).attr('y1',545).attr('y2',758).attr('stroke','#000').attr('stroke-width',1);
frame(D);
xAxis(D,d_xTicks,d_xMinor,TF,5);
const yl=D.g.append('g').attr('transform','translate(70,0)').call(d3.axisLeft(D.y).tickValues(d_yTicks).tickSize(5).tickPadding(3).tickFormat(d=>String(d)));
yl.select('.domain').remove(); yl.selectAll('text').style('font-size',TF+'px').attr('fill','#000');
rich(D.g,362,800,['E - E',['F','sub'],' (eV)'],LF,{anchor:'middle'});
rich(D.g,40,662,['DOS (states/eV)'],LF,{anchor:'middle',rotate:-90});
rich(D.g,23,545,['(d)'],20);
D.g.append('rect').attr('x',134).attr('y',571).attr('width',47).attr('height',22).attr('fill','#c8c8c8').attr('stroke','#9a9a9a').attr('stroke-width',2);
D.g.append('rect').attr('x',133).attr('y',597).attr('width',49).attr('height',24).attr('fill','#ff8585');
rich(D.g,189,590,['SRO'],20);
rich(D.g,189,617,['SRCO15'],20);
rich(D.g,415,573,['O2p'],22);
rich(D.g,580,572,['Ru4d'],22);
arrow(D.g,566,598,588,574);
rich(D.g,373,643,['Up-spin'],17);
rich(D.g,388,666,['Down-spin'],17);
rich(D.g,115,690,['Sr4p'],22);
arrow(D.g,103,720,126,689);
rich(D.g,547,745,['E',['F','sub']],22);
</script>
</body></html>
